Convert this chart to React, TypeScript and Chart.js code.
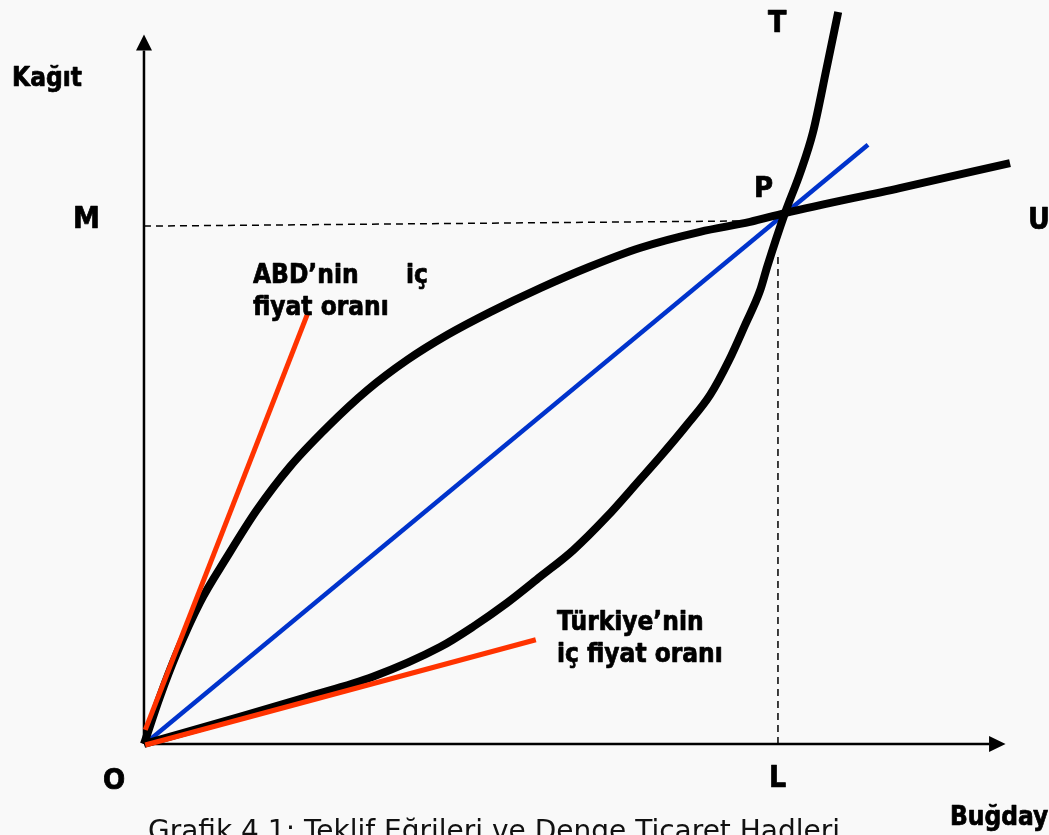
import React, { useEffect, useRef } from "react";
import { Chart, registerables } from "chart.js";

Chart.register(...registerables);

// Offer curves (Buğday on x, Kağıt on y), L = 100, M = 100
const abdX = [0, 2.5, 5.2, 8.8, 13.1, 17.8, 23.0, 28.9, 35.2, 41.5, 47.8, 54.6, 62.5, 70.3, 78.2, 87.7, 95.6, 101.1, 119.2, 136.6];
const abdY = [0, 9.0, 17.5, 27.1, 35.9, 44.9, 53.2, 60.8, 67.9, 73.7, 78.5, 82.9, 87.5, 91.6, 95.2, 98.3, 100.2, 101.9, 106.7, 111.5];

const trX = [0, 15.1, 25.7, 36.1, 46.7, 51.9, 57.3, 62.5, 67.7, 73.0, 78.2, 81.4, 85.6, 89.3, 92.3, 94.8, 97.2, 98.3, 101.1, 103.5, 105.5, 107.7, 109.5];
const trY = [0, 5.2, 9.0, 12.9, 18.6, 22.5, 27.1, 32.1, 37.2, 43.6, 50.7, 55.1, 61.2, 67.0, 73.7, 80.4, 87.1, 91.6, 101.9, 109.6, 117.3, 129.9, 140.5];

// Terms-of-trade line (blue)
const totX = [0.3, 114.2];
const totY = [0.2, 115.0];

// Domestic price ratio lines (red)
const abdPriceX = [0.2, 25.9];
const abdPriceY = [2.7, 82.9];
const trPriceX = [0.2, 61.8];
const trPriceY = [-0.2, 20.0];

// Guide lines
const mGuideX = [0, 96];
const mGuideY = [99.4, 100.4];
const lGuideX = [100, 100];
const lGuideY = [0, 93.5];

// Axes (end of shaft, arrow tip)
const yAxisTop = 133.1;
const yAxisTip = 136.2;
const xAxisEnd = 133.3;
const xAxisTip = 135.9;

const pointLabels = ["M", "U", "T", "P", "O", "L"];
const axisTitles = ["Kağıt", "Buğday"];
const noteABD = ["ABD’nin", "iç", "fiyat oranı"];
const noteTR = ["Türkiye’nin", "iç fiyat oranı"];
const caption = "Grafik 4.1: Teklif Eğrileri ve Denge Ticaret Hadleri";

const pts = (xs: number[], ys: number[]) => xs.map((x, i) => ({ x, y: ys[i] }));

const BOLD = '"DejaVu Sans Condensed", "DejaVu Sans", sans-serif';
const REGULAR = '"DejaVu Sans", sans-serif';

const decor = {
  id: "decor",
  beforeDraw(chart: any) {
    const { ctx, width, height } = chart;
    ctx.save();
    ctx.fillStyle = "#f9f9f9";
    ctx.fillRect(0, 0, width, height);
    ctx.restore();
  },
  afterDatasetsDraw(chart: any) {
    const { ctx } = chart;
    const xs = chart.scales.x;
    const ys = chart.scales.y;
    const ox = xs.getPixelForValue(0);
    const oy = ys.getPixelForValue(0);
    ctx.save();
    ctx.fillStyle = "#000";
    // y arrow
    const yt = ys.getPixelForValue(yAxisTip);
    const yb = ys.getPixelForValue(yAxisTop);
    ctx.beginPath();
    ctx.moveTo(ox, yt);
    ctx.lineTo(ox - 8, yb);
    ctx.lineTo(ox + 8, yb);
    ctx.closePath();
    ctx.fill();
    // x arrow
    const xt = xs.getPixelForValue(xAxisTip);
    const xb = xs.getPixelForValue(xAxisEnd);
    ctx.beginPath();
    ctx.moveTo(xt, oy);
    ctx.lineTo(xb, oy - 8);
    ctx.lineTo(xb, oy + 8);
    ctx.closePath();
    ctx.fill();

    const text = (t: string, x: number, y: number, size: number, family = BOLD, weight = "bold", stroke = 0.7) => {
      ctx.font = `${weight} ${size}px ${family}`;
      ctx.textAlign = "left";
      ctx.textBaseline = "alphabetic";
      ctx.fillText(t, x, y);
      if (stroke > 0) {
        ctx.lineWidth = stroke;
        ctx.strokeStyle = ctx.fillStyle;
        ctx.lineJoin = "round";
        ctx.strokeText(t, x, y);
      }
    };
    // point labels
    text(pointLabels[0], 73, 228, 30);
    text(pointLabels[1], 1028, 229, 30);
    text(pointLabels[2], 768, 32, 30);
    text(pointLabels[3], 754, 197, 29);
    text(pointLabels[4], 103, 789, 29);
    text(pointLabels[5], 769, 787, 30);
    // axis titles
    text(axisTitles[0], 12, 86, 26);
    text(axisTitles[1], 950, 825, 26);
    // notes
    text(noteABD[0], 253, 283, 26);
    text(noteABD[1], 406, 283, 26);
    text(noteABD[2], 253, 315, 26);
    text(noteTR[0], 557, 630, 26);
    text(noteTR[1], 557, 662, 26);
    // caption
    ctx.fillStyle = "#111";
    text(caption, 148, 840, 28, REGULAR, "normal", 0);
    ctx.restore();
  },
};

export default function App() {
  const ref = useRef<HTMLCanvasElement | null>(null);
  useEffect(() => {
    if (!ref.current) return;
    const line = (data: any[], color: string, width: number, order: number, extra: any = {}) => ({
      data,
      showLine: true,
      borderColor: color,
      backgroundColor: color,
      borderWidth: width,
      pointRadius: 0,
      pointHoverRadius: 0,
      fill: false,
      order,
      ...extra,
    });
    const chart = new Chart(ref.current, {
      type: "scatter",
      data: {
        datasets: [
          line(pts(abdPriceX, abdPriceY), "#ff3300", 5, 1),
          line(pts(trPriceX, trPriceY), "#ff3300", 5, 1),
          line(pts(abdX, abdY), "#000000", 8, 2, { cubicInterpolationMode: "monotone", borderJoinStyle: "round" }),
          line(pts(trX, trY), "#000000", 8, 2, { cubicInterpolationMode: "monotone", borderJoinStyle: "round" }),
          line(pts(totX, totY), "#0033cc", 4.5, 3),
          line(pts(mGuideX, mGuideY), "#000000", 1.5, 4, { borderDash: [7, 5] }),
          line(pts(lGuideX, lGuideY), "#000000", 1.5, 4, { borderDash: [7, 5] }),
          line(pts([0, 0], [0, yAxisTop]), "#000000", 2.5, 5),
          line(pts([0, xAxisEnd], [0, 0]), "#000000", 2.5, 5),
        ],
      },
      options: {
        animation: false,
        responsive: false,
        events: [],
        layout: { padding: 0 },
        plugins: { legend: { display: false }, tooltip: { enabled: false }, title: { display: false } },
        scales: {
          x: { type: "linear", display: false, min: -22.71, max: 142.75 },
          y: { type: "linear", display: false, min: -17.47, max: 142.8 },
        },
      },
      plugins: [decor],
    });
    return () => chart.destroy();
  }, []);
  return (
    <div style={{ position: "absolute", left: 0, top: 0, width: 1049, height: 835 }}>
      <canvas ref={ref} width={1049} height={835} style={{ width: 1049, height: 835, display: "block" }} />
    </div>
  );
}
